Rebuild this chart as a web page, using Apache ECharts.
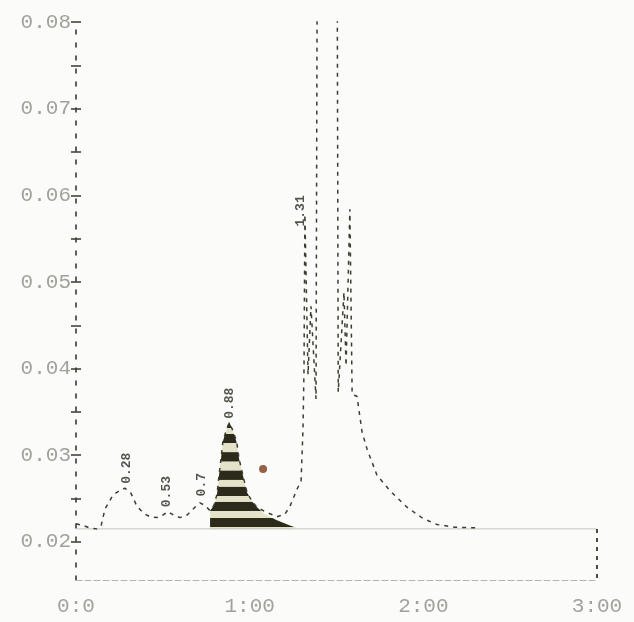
<!DOCTYPE html>
<html>
<head>
<meta charset="utf-8">
<script src="https://cdn.jsdelivr.net/npm/echarts@6/dist/echarts.min.js"></script>
<style>html,body{margin:0;padding:0;background:#fbfbfa;}#c{width:634px;height:622px;}</style>
</head>
<body>
<div id="c"></div>
<script>
// ---- data (time in minutes, signal in AU) ----
const timeTicks = [0, 1, 2, 3];
const timeTickLabels = ['0:0', '1:00', '2:00', '3:00'];
const signalLabelValues = [0.02, 0.03, 0.04, 0.05, 0.06, 0.07, 0.08];
const signalTickValues = [0.02, 0.025, 0.03, 0.035, 0.04, 0.045, 0.05, 0.055, 0.06, 0.065, 0.07, 0.075, 0.08];

const traceTime = [0.000, 0.040, 0.080, 0.121, 0.145, 0.167, 0.213, 0.250, 0.282, 0.317, 0.351, 0.390, 0.426, 0.466, 0.500, 0.530, 0.560, 0.600, 0.640, 0.685, 0.714, 0.743, 0.772, 0.794, 0.812, 0.823, 0.835, 0.846, 0.864, 0.881, 0.898, 0.916, 0.927, 0.939, 0.962, 0.985, 1.013, 1.042, 1.088, 1.157, 1.203, 1.232, 1.273, 1.296, 1.307, 1.313, 1.318, 1.336, 1.353, 1.382, 1.390, 1.503, 1.510, 1.543, 1.555, 1.577, 1.590, 1.618, 1.647, 1.676, 1.733, 1.808, 1.906, 1.998, 2.079, 2.182, 2.326];
const traceValue = [0.0221, 0.0219, 0.0216, 0.0215, 0.0219, 0.0238, 0.0254, 0.0259, 0.0262, 0.0256, 0.0241, 0.0233, 0.0229, 0.0228, 0.0231, 0.0235, 0.0231, 0.0228, 0.0231, 0.0240, 0.0245, 0.0242, 0.0236, 0.0242, 0.0255, 0.0276, 0.0296, 0.0316, 0.0328, 0.0337, 0.0331, 0.0321, 0.0313, 0.0296, 0.0276, 0.0257, 0.0247, 0.0240, 0.0235, 0.0229, 0.0232, 0.0241, 0.0261, 0.0270, 0.0330, 0.0400, 0.0578, 0.0393, 0.0472, 0.0365, 0.0950, 0.0950, 0.0373, 0.0488, 0.0403, 0.0584, 0.0370, 0.0368, 0.0327, 0.0307, 0.0277, 0.0259, 0.0240, 0.0227, 0.0220, 0.0217, 0.0216];

const peakFillTime = [0.772, 0.794, 0.812, 0.823, 0.835, 0.846, 0.864, 0.881, 0.898, 0.916, 0.927, 0.939, 0.962, 0.985, 1.013, 1.042, 1.088, 1.157, 1.232, 1.273];
const peakFillValue = [0.0236, 0.0242, 0.0255, 0.0276, 0.0296, 0.0316, 0.0328, 0.0339, 0.0331, 0.0321, 0.0313, 0.0296, 0.0276, 0.0257, 0.0247, 0.0240, 0.0232, 0.0225, 0.0219, 0.0216];

const integrationBaseline = 0.0215;
const markerPoint = [1.077, 0.0284];

const peakLabelText = ['0.28', '0.53', '0.7', '0.88', '1.31'];
const peakLabelTime = [0.293, 0.520, 0.722, 0.885, 1.296];
const peakLabelValue = [0.0285, 0.0258, 0.0266, 0.0360, 0.0582];

const yMin = 0.0156, yMax = 0.08;

// ---- chart ----
const chart = echarts.init(document.getElementById('c'), null, {renderer: 'canvas'});

// striped fill like the scanned printout
const bandCentres = [0.02, 0.16, 0.33, 0.50, 0.65, 0.79, 0.94];
const stops = [];
const dark = '#2c2a1b', light = '#e4e2c8';
stops.push({offset: 0, color: light});
bandCentres.forEach(c => {
  const a = Math.max(0, c - 0.045), b = Math.min(1, c + 0.045);
  stops.push({offset: a, color: light});
  stops.push({offset: a + 0.005, color: dark});
  stops.push({offset: b - 0.005, color: dark});
  stops.push({offset: b, color: light});
});
stops.push({offset: 1, color: light});

const axisFont = {fontFamily: 'Liberation Mono', fontSize: 21, color: '#a2a29c'};

chart.setOption({
  backgroundColor: '#fbfbfa',
  animation: false,
  grid: {left: 76, right: 37, top: 22, bottom: 42, outerBoundsMode: 'none'},
  xAxis: {
    type: 'value', min: 0, max: 3, interval: 1,
    axisLine: {show: true, lineStyle: {color: '#b5b5ad', width: 1, type: [6, 3]}},
    axisTick: {show: false},
    splitLine: {show: false},
    axisLabel: Object.assign({margin: 16, formatter: v => timeTickLabels[timeTicks.indexOf(Math.round(v))]}, axisFont)
  },
  yAxis: [
    {
      type: 'value', min: yMin, max: yMax,
      axisLine: {show: true, lineStyle: {color: '#3a3a32', width: 1.6, type: [4, 9]}},
      axisTick: {show: true, length: 5, customValues: signalTickValues, lineStyle: {color: '#3a3a32', width: 1.5}},
      splitLine: {show: false},
      axisLabel: Object.assign({margin: 5, customValues: signalLabelValues, formatter: v => v.toFixed(2)}, axisFont)
    },
    {
      type: 'value', min: yMin, max: yMax, position: 'left',
      axisLine: {show: false},
      axisTick: {show: true, inside: true, length: 5, customValues: signalTickValues, lineStyle: {color: '#3a3a32', width: 1.5}},
      splitLine: {show: false},
      axisLabel: {show: false}
    }
  ],
  series: [
    {
      name: 'baseline', type: 'line', symbol: 'none', silent: true,
      data: [[0, integrationBaseline], [3, integrationBaseline]],
      lineStyle: {color: '#c4c4bc', width: 1}
    },
    {
      name: 'edge', type: 'line', symbol: 'none', silent: true,
      data: [[3, integrationBaseline], [3, yMin]],
      lineStyle: {color: '#4a4a40', width: 2, type: [4, 5]}
    },
    {
      name: 'peakArea', type: 'line', symbol: 'none', silent: true,
      data: peakFillTime.map((t, i) => [t, peakFillValue[i]]),
      lineStyle: {width: 0, opacity: 0},
      areaStyle: {
        origin: integrationBaseline, opacity: 1,
        color: new echarts.graphic.LinearGradient(0, 0, 0, 1, stops)
      }
    },
    {
      name: 'trace', type: 'line', symbol: 'none', clip: true,
      data: traceTime.map((t, i) => [t, traceValue[i]]),
      lineStyle: {color: '#3c3c30', width: 1.5, type: [4, 5]}
    },
    {
      name: 'marker', type: 'scatter', symbolSize: 8,
      data: [markerPoint],
      itemStyle: {color: '#7a3a1c'}
    },
    {
      name: 'labels', type: 'scatter', symbolSize: 0,
      data: peakLabelText.map((s, i) => ({value: [peakLabelTime[i], peakLabelValue[i]], name: s})),
      label: {show: true, position: 'inside', rotate: 90, formatter: p => p.name,
              fontFamily: 'Liberation Mono', fontSize: 13, fontWeight: 'bold', color: '#2a2a22'}
    }
  ]
});
</script>
</body>
</html>
